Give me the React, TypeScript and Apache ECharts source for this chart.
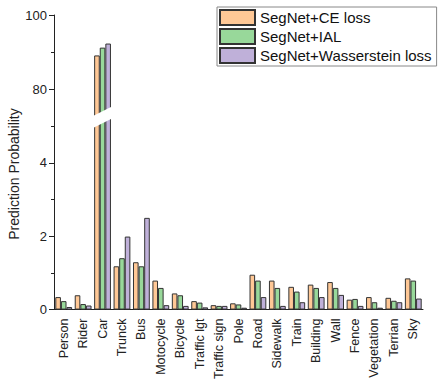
import React, { useEffect, useRef } from "react";
import * as echarts from "echarts";

const categories = [
  "Person", "Rider", "Car", "Trunck", "Bus", "Motocycle", "Bicycle", "Traffic lgt",
  "Traffic sign", "Pole", "Road", "Sidewalk", "Train", "Building", "Wall", "Fence",
  "Vegetation", "Terrian", "Sky",
];
const ceLoss = [0.34, 0.39, 89.1, 1.18, 1.29, 0.79, 0.44, 0.23, 0.12, 0.17, 0.95, 0.79, 0.62, 0.68, 0.75, 0.27, 0.34, 0.32, 0.85];
const ial = [0.23, 0.15, 91.2, 1.40, 1.18, 0.59, 0.39, 0.19, 0.10, 0.14, 0.79, 0.59, 0.49, 0.59, 0.59, 0.29, 0.20, 0.24, 0.79];
const wasserstein = [0.07, 0.11, 92.3, 1.99, 2.50, 0.12, 0.10, 0.06, 0.10, 0.05, 0.34, 0.10, 0.20, 0.34, 0.40, 0.10, 0.05, 0.20, 0.30];

const seriesNames = ["SegNet+CE loss", "SegNet+IAL", "SegNet+Wasserstein loss"];
const seriesColors = ["#FFC896", "#98D89A", "#BFB0D9"];

const lowerMax = 5.25;
const upperMin = 72.5;
const lowerMajor = [0, 2, 4];
const lowerMinor = [1, 3, 5];
const upperMajor = [80, 100];
const upperMinor = [90];

const FONT = "'Liberation Sans', Arial, sans-serif";

export default function App() {
  const ref = useRef<HTMLDivElement>(null);
  useEffect(() => {
    document.body.style.margin = "0";
    if (!ref.current) return;
    const chart = echarts.init(ref.current, undefined, { renderer: "svg" });
    const all = [ceLoss, ial, wasserstein];

    const xAxisBase = {
      type: "category",
      data: categories,
      boundaryGap: true,
    };
    const yBase = {
      type: "value",
      position: "left",
      splitLine: { show: false },
    };

    const series: any[] = [];
    all.forEach((vals, i) => {
      const common = {
        type: "bar",
        name: seriesNames[i],
        barWidth: 5.6,
        barGap: "0%",
        itemStyle: { color: seriesColors[i], borderColor: "#333", borderWidth: 1 },
      };
      series.push({ ...common, xAxisIndex: 0, yAxisIndex: 0, data: vals });
      series.push({
        ...common,
        xAxisIndex: 1,
        yAxisIndex: 2,
        data: vals.map((v) => (v > upperMin ? v : "-")),
      });
    });

    chart.setOption({
      animation: false,
      textStyle: { fontFamily: FONT },
      legend: {
        data: seriesNames,
        orient: "vertical",
        left: 217,
        top: 7,
        padding: [2, 5, 2, 2],
        itemGap: 2,
        itemWidth: 35,
        itemHeight: 15,
        icon: "rect",
        borderColor: "#888",
        borderWidth: 1,
        textStyle: { fontSize: 15, color: "#111", fontFamily: FONT, lineHeight: 17 },
      },
      grid: [
        { left: 54, right: 16, top: 117, height: 194 },
        { left: 54, right: 16, top: 15, height: 102 },
      ],
      xAxis: [
        {
          ...xAxisBase,
          gridIndex: 0,
          axisLine: { lineStyle: { color: "#222", width: 1 } },
          axisTick: { alignWithLabel: true, length: 5, lineStyle: { color: "#222" } },
          axisLabel: { rotate: 90, fontSize: 12.5, color: "#222", margin: 9, interval: 0, fontFamily: FONT },
        },
        {
          ...xAxisBase,
          gridIndex: 1,
          show: false,
        },
      ],
      yAxis: [
        {
          ...yBase,
          gridIndex: 0,
          min: 0,
          max: lowerMax,
          axisLine: { show: true, lineStyle: { color: "#222", width: 1 } },
          axisTick: { show: true, length: 5, customValues: lowerMajor, lineStyle: { color: "#222" } },
          axisLabel: { customValues: lowerMajor, fontSize: 13, color: "#222", margin: 7, fontFamily: FONT },
        },
        {
          ...yBase,
          gridIndex: 0,
          min: 0,
          max: lowerMax,
          axisLine: { show: false },
          axisTick: { show: true, length: 3, customValues: lowerMinor, lineStyle: { color: "#222" } },
          axisLabel: { show: false },
        },
        {
          ...yBase,
          gridIndex: 1,
          min: upperMin,
          max: 100,
          axisLine: { show: true, lineStyle: { color: "#222", width: 1 } },
          axisTick: { show: true, length: 5, customValues: upperMajor, lineStyle: { color: "#222" } },
          axisLabel: { customValues: upperMajor, fontSize: 13, color: "#222", margin: 7, fontFamily: FONT },
        },
        {
          ...yBase,
          gridIndex: 1,
          min: upperMin,
          max: 100,
          axisLine: { show: false },
          axisTick: { show: true, length: 3, customValues: upperMinor, lineStyle: { color: "#222" } },
          axisLabel: { show: false },
        },
      ],
      series,
      graphic: [
        {
          type: "polygon",
          z: 100,
          shape: { points: [[92, 116.5], [116, 104.5], [116, 116.5], [92, 128.5]] },
          style: { fill: "#fff" },
        },
        {
          type: "text",
          x: 14,
          y: 174,
          rotation: Math.PI / 2,
          style: {
            text: "Prediction Probability",
            fontSize: 14,
            fontFamily: FONT,
            fill: "#222",
            textAlign: "center",
            textVerticalAlign: "middle",
          },
        },
      ],
    });
    return () => chart.dispose();
  }, []);
  return <div ref={ref} style={{ width: 439, height: 382 }} />;
}
